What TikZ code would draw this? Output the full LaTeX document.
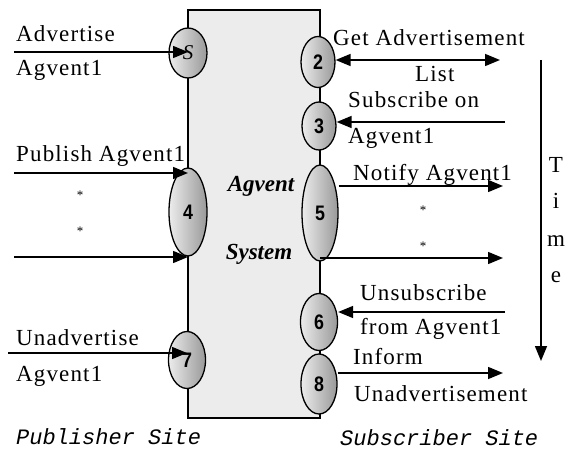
\documentclass[tikz,border=0pt]{standalone}
\usepackage{fontspec}
\setmainfont{Liberation Serif}
\setmonofont{Liberation Mono}
\newfontfamily\labelfont{Liberation Serif}[LetterSpace=5.0]
\newfontfamily\numfont{Liberation Sans}[FakeStretch=0.85]
\usetikzlibrary{shapes.geometric,arrows.meta}
\begin{document}
\begin{tikzpicture}[x=1pt,y=-1pt,every node/.style={inner sep=0pt},
  port/.style={draw,ellipse,line width=1.3pt,left color=gray!15,right color=gray!80,font=\numfont\bfseries\fontsize{21}{21}\selectfont},
  lbl/.style={anchor=base west,font=\labelfont\fontsize{23}{23}\selectfont},
  star/.style={font=\fontsize{13}{13}\selectfont},
  msg/.style={line width=1.5pt,-{Triangle[length=15pt,width=12pt]}},
  both/.style={line width=1.5pt,{Triangle[length=15pt,width=12pt]}-{Triangle[length=15pt,width=12pt]}}]
\useasboundingbox (0,0) rectangle (566,452);
% the system box
\node[draw,line width=1.2pt,fill=gray!15,minimum width=132pt,minimum height=408pt] (sys) at (254,214) {};
\node[anchor=base,font=\bfseries\itshape\fontsize{23}{23}\selectfont] (sysA) at (261,192) {Agvent};
\node[anchor=base,font=\bfseries\itshape\fontsize{23}{23}\selectfont] (sysB) at (259,259) {System};
% ports, publisher side
\node[port,minimum width=38pt,minimum height=50pt] (ps) at (188,53) {\normalfont\itshape\fontsize{21}{21}\selectfont S};
\node[port,minimum width=38pt,minimum height=88pt] (p4) at (188,212) {4};
\node[port,minimum width=37pt,minimum height=57pt] (p7) at (187,360) {7};
% ports, subscriber side
\node[port,minimum width=34pt,minimum height=51pt] (p2) at (318,62) {2};
\node[port,minimum width=34pt,minimum height=48pt] (p3) at (319,126) {3};
\node[port,minimum width=36pt,minimum height=96pt] (p5) at (320,213) {5};
\node[port,minimum width=37pt,minimum height=57pt] (p6) at (319,322) {6};
\node[port,minimum width=36pt,minimum height=60pt] (p8) at (319,384) {8};
% loose ends of the messages
\coordinate (advIn) at (14,52);
\coordinate (pubIn) at (14,173);
\coordinate (etcIn) at (14,257);
\coordinate (unadvIn) at (8,353);
\coordinate (getOut) at (500,60);
\coordinate (subIn) at (505,122);
\coordinate (notOut) at (503,186);
\coordinate (etcOut) at (503,258);
\coordinate (unsubIn) at (505,312);
\coordinate (infOut) at (503,373);
\coordinate (timeTop) at (541,60);
\coordinate (timeEnd) at (541,361);
% messages
\foreach \a/\b in {ps/advIn,p4/pubIn,p4/etcIn,p7/unadvIn}
  \draw[msg] (\b) -- (\b -| \a);
\draw[both] (getOut -| p2.east) -- (getOut);
\draw[msg] (subIn) -- (subIn -| p3.east);
\draw[msg] (notOut -| p5.east) -- (notOut);
\draw[msg] (etcOut -| p5.south) -- (etcOut);
\draw[msg] (unsubIn) -- (unsubIn -| p6.east);
\draw[msg] (infOut -| p8.east) -- (infOut);
\draw[msg] (timeTop) -- (timeEnd);
% labels
\node[lbl] (tAdv) at (16,42) {Advertise};
\node[lbl] (tAdv2) at (16,76) {Agvent1};
\node[lbl] (tPub) at (16,162) {Publish Agvent1};
\node[lbl] (tUnadv) at (16,345) {Unadvertise};
\node[lbl] (tUnadv2) at (16,381) {Agvent1};
\node[lbl] (tGet) at (333,46) {Get Advertisement};
\node[lbl] (tGet2) at (415,82) {List};
\node[lbl] (tSub) at (348,108) {Subscribe on};
\node[lbl] (tSub2) at (348,143) {Agvent1};
\node[lbl] (tNot) at (353,180) {Notify Agvent1};
\node[lbl] (tUns) at (360,300) {Unsubscribe};
\node[lbl] (tUns2) at (360,334) {from Agvent1};
\node[lbl] (tInf) at (353,364) {Inform};
\node[lbl] (tInf2) at (354,401) {Unadvertisement};
\foreach \y/\c in {172/T,208/i,246/m,282/e}
  \node[lbl,anchor=base] at (556,\y) {\c};
\foreach \p in {(80,195),(80,231),(423,210),(423,246)}
  \node[star] at \p {*};
\node[lbl,font=\ttfamily\itshape\fontsize{22}{22}\selectfont] (pubSite) at (16,444) {Publisher Site};
\node[lbl,font=\ttfamily\itshape\fontsize{22}{22}\selectfont] (subSite) at (340,445) {Subscriber Site};
\end{tikzpicture}
\end{document}
